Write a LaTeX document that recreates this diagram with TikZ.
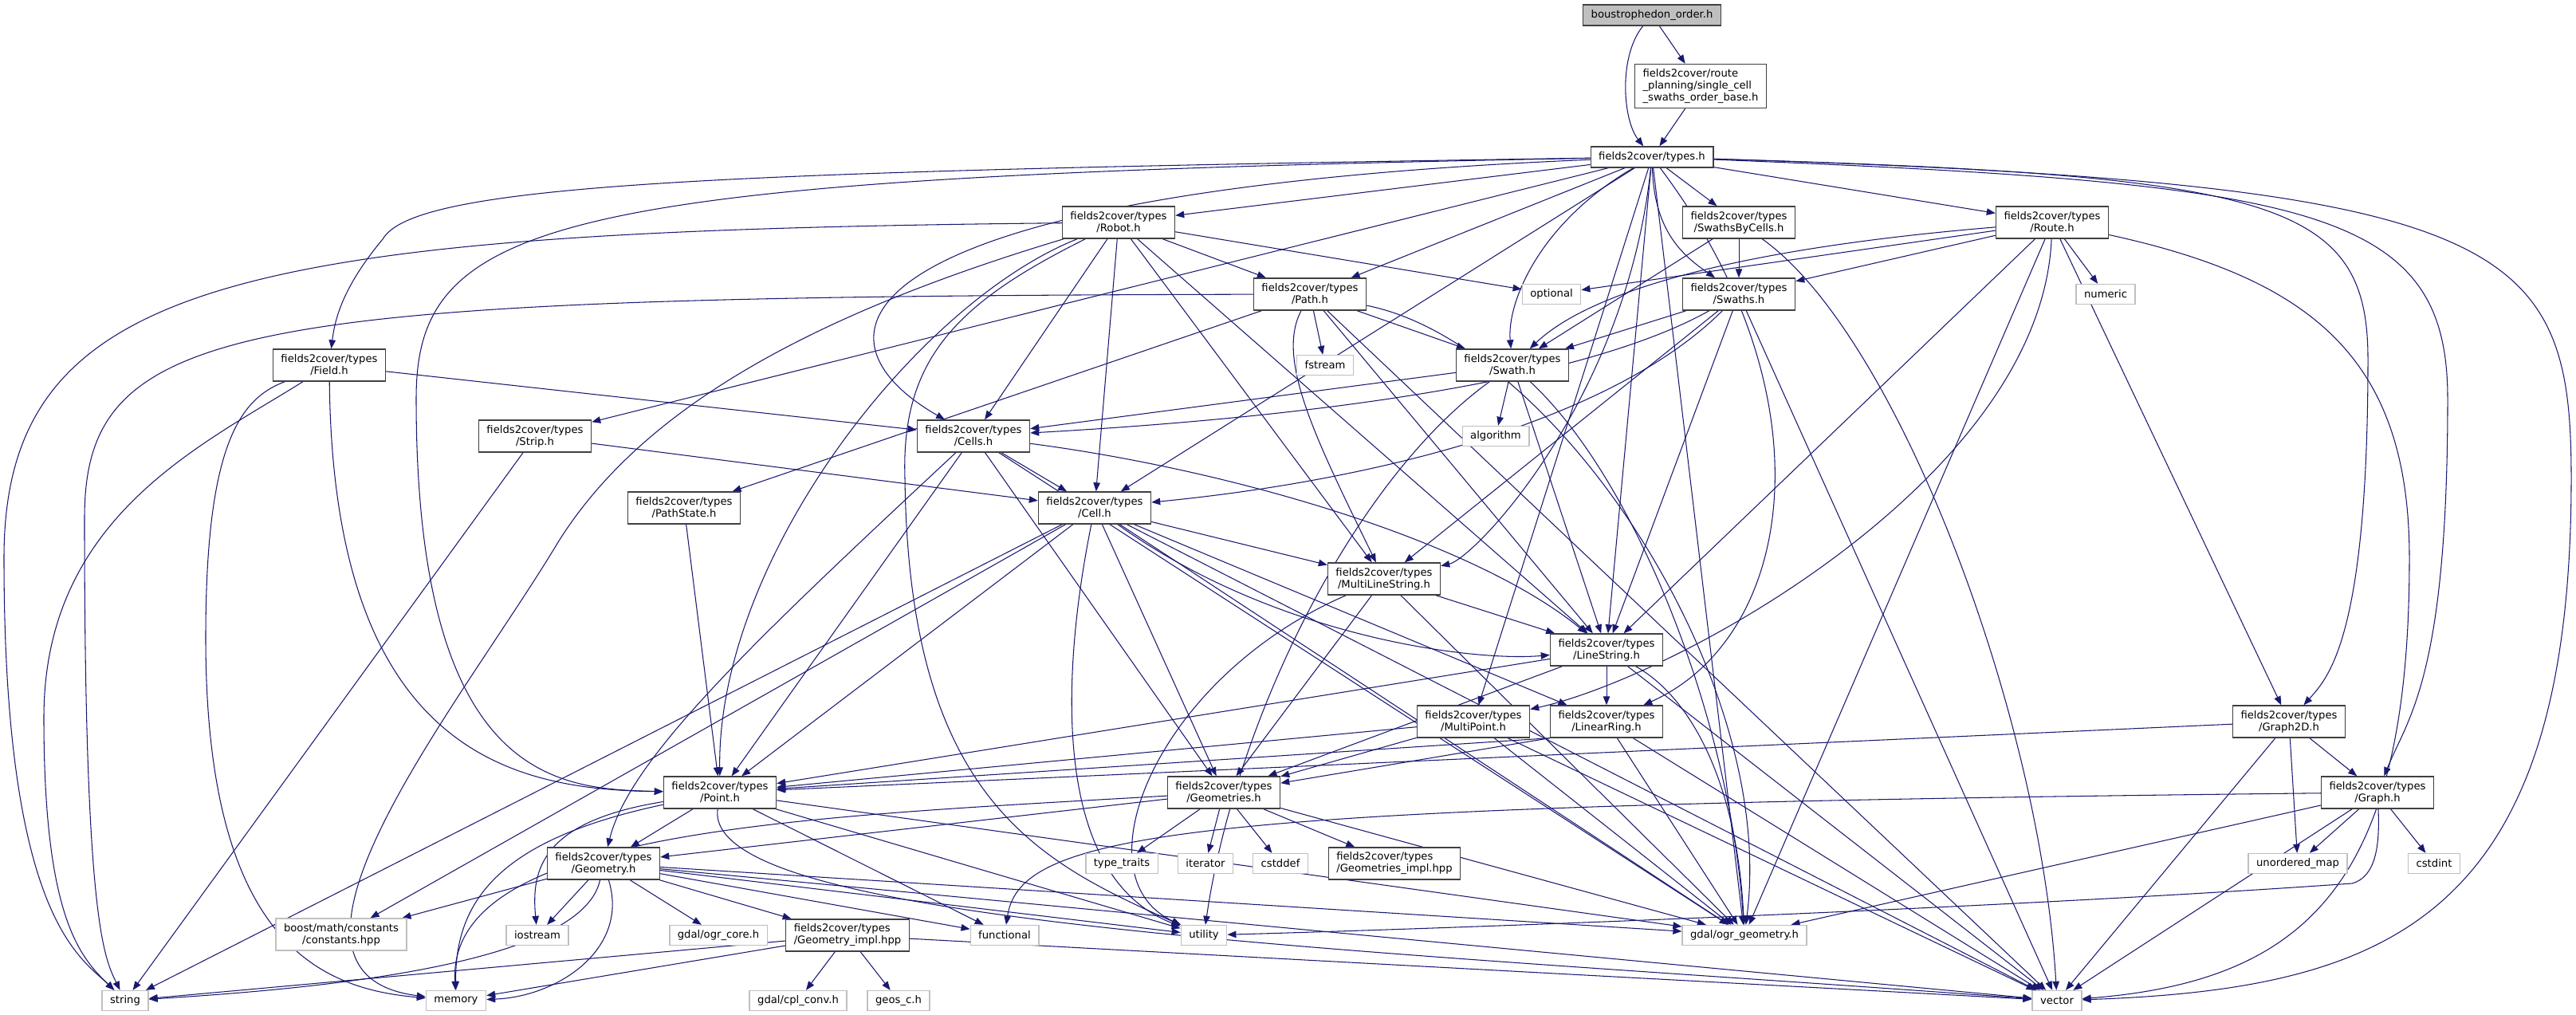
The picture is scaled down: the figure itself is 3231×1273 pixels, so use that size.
\documentclass[tikz,border=0pt]{standalone}
\usepackage{fontspec}
\setmainfont{DejaVu Sans}
\usetikzlibrary{arrows.meta}
\pgfdeclarelayer{background}
\pgfsetlayers{background,main}
\definecolor{edgeblue}{HTML}{191970}
\definecolor{sysgray}{HTML}{BFBFBF}
\definecolor{boxgray}{HTML}{404040}

\begin{document}
\begin{tikzpicture}[
  x=0.02cm, y=-0.02cm,
  font=\fontsize{7.5}{8.5}\selectfont,
  dep/.style={-{Triangle[length=0.22cm,width=0.17cm]},color=edgeblue,line width=0.6pt},
  hdr/.style={draw=boxgray,line width=0.8pt,fill=white,align=center,inner xsep=0.2cm,inner ysep=1pt,minimum height=0.8cm},
  one/.style={hdr,minimum height=0.52cm},
  cur/.style={one,fill=sysgray},
  sys/.style={draw=sysgray,line width=0.8pt,fill=white,align=center,inner xsep=0.2cm,inner ysep=1pt,minimum height=0.5cm},
]
\useasboundingbox (0,0) rectangle (3231,1273);

% ---- one include per target ----
\newcommand{\Deps}[2]{%
  \foreach \dst in {#2}{%
    \draw[dep] (#1) -- (\dst);%
  }%
}

% ========================= files =========================
\node[cur] (bous) at (2072,19) {boustrophedon\_order.h};
\node[hdr,align=left,minimum height=1.1cm] (scsob) at (2133,108)
  {fields2cover/route\\\_planning/single\_cell\\\_swaths\_order\_base.h};
\node[one] (types) at (2072,197) {fields2cover/types.h};

\node[hdr] (robot)  at (1403,279) {fields2cover/types\\/Robot.h};
\node[hdr] (sbc)    at (2181,279) {fields2cover/types\\/SwathsByCells.h};
\node[hdr] (route)  at (2574,279) {fields2cover/types\\/Route.h};
\node[hdr] (path)   at (1643,369) {fields2cover/types\\/Path.h};
\node[hdr] (swaths) at (2181,369) {fields2cover/types\\/Swaths.h};
\node[hdr] (field)  at (413,458)  {fields2cover/types\\/Field.h};
\node[hdr] (swath)  at (1897,458) {fields2cover/types\\/Swath.h};
\node[hdr] (strip)  at (671,547)  {fields2cover/types\\/Strip.h};
\node[hdr] (cells)  at (1221,547) {fields2cover/types\\/Cells.h};
\node[hdr] (pathstate) at (858,637) {fields2cover/types\\/PathState.h};
\node[hdr] (cell)   at (1373,637) {fields2cover/types\\/Cell.h};
\node[hdr] (mls)    at (1736,726) {fields2cover/types\\/MultiLineString.h};
\node[hdr] (lstr)   at (2015,815) {fields2cover/types\\/LineString.h};
\node[hdr] (mpoint) at (1848,905) {fields2cover/types\\/MultiPoint.h};
\node[hdr] (lring)  at (2015,905) {fields2cover/types\\/LinearRing.h};
\node[hdr] (graph2d) at (2871,905) {fields2cover/types\\/Graph2D.h};
\node[hdr] (point)  at (903,994)  {fields2cover/types\\/Point.h};
\node[hdr] (geoms)  at (1535,994) {fields2cover/types\\/Geometries.h};
\node[hdr] (graph)  at (2982,994) {fields2cover/types\\/Graph.h};
\node[hdr] (geom)   at (757,1083) {fields2cover/types\\/Geometry.h};
\node[hdr,align=left] (geomsimpl) at (1749,1083) {fields2cover/types\\/Geometries\_impl.hpp};
\node[hdr,align=left] (geomimpl)  at (1063,1173) {fields2cover/types\\/Geometry\_impl.hpp};

% ---- system headers ----
\node[sys] (optional)   at (1946,369)  {optional};
\node[sys] (numeric)    at (2641,369)  {numeric};
\node[sys] (fstream)    at (1662,458)  {fstream};
\node[sys] (algorithm)  at (1876,547)  {algorithm};
\node[sys] (typetraits) at (1407,1083) {type\_traits};
\node[sys] (iterator)   at (1512,1083) {iterator};
\node[sys] (cstddef)    at (1606,1083) {cstddef};
\node[sys] (umap)       at (2882,1083) {unordered\_map};
\node[sys] (cstdint)    at (3053,1083) {cstdint};
\node[sys,minimum height=0.8cm] (boost) at (428,1172) {boost/math/constants\\/constants.hpp};
\node[sys] (iostream)   at (674,1173)  {iostream};
\node[sys] (ogrcore)    at (901,1173)  {gdal/ogr\_core.h};
\node[sys] (functional) at (1260,1173) {functional};
\node[sys] (utility)    at (1510,1173) {utility};
\node[sys] (ogr)        at (2188,1173) {gdal/ogr\_geometry.h};
\node[sys] (string)     at (157,1255)  {string};
\node[sys] (memory)     at (572,1255)  {memory};
\node[sys] (cplconv)    at (1001,1255) {gdal/cpl\_conv.h};
\node[sys] (geos)       at (1127,1255) {geos\_c.h};
\node[sys] (vector)     at (2580,1255) {vector};

% ========================= includes =========================
\begin{pgfonlayer}{background}
  % top of the graph
  \draw[dep] (bous) .. controls (2030,70) and (2035,150) .. (types);
  \Deps{bous}{scsob}
  \Deps{scsob}{types}

  % types.h
  \Deps{types}{strip,cell,robot,path,sbc,route,lstr,mpoint,ogr}
  \draw[dep] (types) .. controls (900,215) and (520,230) .. (480,300) .. controls (430,360) and (420,400) .. (field);
  \draw[dep] (types) .. controls (700,222) and (522,270) .. (522,500) .. controls (522,980) and (700,990) .. (point);
  \draw[dep] (types) .. controls (1050,240) and (1000,420) .. (cells);
  \draw[dep] (types) .. controls (1930,280) and (1890,380) .. (swath);
  \draw[dep] (types) .. controls (2075,290) and (2110,320) .. (swaths);
  \draw[dep] (types) .. controls (2040,500) and (1850,700) .. (mls);
  \draw[dep] (types) .. controls (2300,500) and (2250,800) .. (lring);
  \draw[dep] (types) .. controls (2850,220) and (2970,250) .. (2970,450) .. controls (2970,800) and (2920,850) .. (graph2d);
  \draw[dep] (types) .. controls (2900,230) and (3070,260) .. (3070,500) .. controls (3070,850) and (3020,900) .. (graph);
  \draw[dep] (types) .. controls (3150,230) and (3225,300) .. (3225,600) .. controls (3225,1150) and (3000,1240) .. (vector);

  % Robot.h
  \Deps{robot}{path,optional,cells,cell,mls,lstr}
  \draw[dep] (robot) .. controls (300,290) and (5,350) .. (5,700) .. controls (5,1150) and (100,1200) .. (string);
  \draw[dep] (robot) .. controls (1000,400) and (800,520) .. (700,680) .. controls (580,880) and (300,1220) .. (memory);
  \draw[dep] (robot) .. controls (1150,380) and (900,700) .. (point);
  \draw[dep] (robot) .. controls (1200,380) and (1130,450) .. (1135,600) .. controls (1140,1000) and (1300,1080) .. (utility);

  % Path.h
  \Deps{path}{fstream,swath,pathstate,lstr,vector}
  \draw[dep] (path) .. controls (300,372) and (106,400) .. (106,650) .. controls (106,1150) and (130,1200) .. (string);
  \draw[dep] (path) .. controls (1600,450) and (1650,550) .. (mls);
  \draw[dep] (path) .. controls (1950,430) and (2230,850) .. (ogr);

  % Swaths*, Route.h
  \Deps{sbc}{swaths,swath}
  \draw[dep] (sbc) .. controls (2380,420) and (2560,900) .. (vector);
  \Deps{swaths}{swath,mls,lstr,vector}
  \draw[dep] (swaths) .. controls (2000,470) and (1700,520) .. (cells);
  \draw[dep] (swaths) .. controls (2030,520) and (1750,600) .. (cell);
  \Deps{route}{swaths,optional,numeric,lstr,graph2d,ogr}
  \draw[dep] (route) .. controls (2200,310) and (2000,360) .. (swath);
  \draw[dep] (route) .. controls (2560,600) and (2100,850) .. (mpoint);
  \draw[dep] (route) .. controls (2900,350) and (3022,450) .. (3022,700) .. controls (3022,1100) and (2900,1230) .. (vector);

  % Field.h, Strip.h, PathState.h, Swath.h
  \Deps{field}{cells}
  \draw[dep] (field) .. controls (418,950) and (650,990) .. (point);
  \draw[dep] (field) .. controls (250,560) and (55,650) .. (55,900) .. controls (55,1150) and (100,1200) .. (string);
  \draw[dep] (field) .. controls (300,500) and (258,560) .. (258,800) .. controls (258,1180) and (400,1240) .. (memory);
  \Deps{strip}{cell,string}
  \Deps{pathstate}{point}
  \Deps{swath}{cells,algorithm,lstr}
  \draw[dep] (swath) .. controls (2050,600) and (2170,900) .. (ogr);
  \draw[dep] (swath) .. controls (1700,600) and (1550,900) .. (utility);

  % Cells.h, Cell.h
  \Deps{cells}{cell,point,geoms,ogr}
  \draw[dep] (cells) .. controls (950,800) and (790,950) .. (geom);
  \draw[dep] (cells) .. controls (1550,590) and (1850,680) .. (lstr);
  \Deps{cell}{point,geoms,boost,string,mls,lring,ogr,vector}
  \draw[dep] (cell) .. controls (1600,800) and (1850,830) .. (lstr);
  \draw[dep] (cell) .. controls (1330,850) and (1320,1100) .. (utility);

  % line types
  \Deps{mls}{lstr,geoms,ogr}
  \draw[dep] (mls) .. controls (1450,850) and (1350,1100) .. (utility);
  \Deps{lstr}{point,geoms,lring,vector}
  \draw[dep] (lstr) .. controls (2130,880) and (2180,1000) .. (ogr);
  \Deps{mpoint}{point,geoms,ogr,vector}
  \draw[dep] (lring.south west) -- (point);
  \draw[dep] (lring.south west) -- (geoms);
  \Deps{lring}{ogr,vector}

  % graphs
  \Deps{graph2d}{point,graph,umap,vector}
  \Deps{graph}{umap,cstdint,vector,ogr}
  \draw[dep] (graph) .. controls (1500,1010) and (1280,1040) .. (functional);
  \draw[dep] (graph) .. controls (2985,1060) and (2980,1100) .. (2950,1108) .. controls (2500,1140) and (1800,1165) .. (utility);

  % geometry core
  \Deps{point}{geom,functional,utility,ogr}
  \draw[dep] (point) .. controls (640,1050) and (570,1120) .. (memory);
  \draw[dep] (point) .. controls (680,1030) and (666,1090) .. (iostream);
  \draw[dep] (point) .. controls (880,1160) and (1700,1190) .. (vector);
  \Deps{geom}{boost,iostream,ogrcore,geomimpl,functional,utility,vector,ogr}
  \draw[dep] (geom) .. controls (730,1210) and (400,1240) .. (string);
  \draw[dep] (geom) .. controls (790,1190) and (700,1250) .. (memory);
  \Deps{geomimpl}{cplconv,geos,memory,string,vector}
  \Deps{geoms}{geom,typetraits,iterator,cstddef,geomsimpl,ogr}
  \draw[dep] (geoms) .. controls (1000,1025) and (560,1040) .. (memory);
\end{pgfonlayer}

\end{tikzpicture}
\end{document}
